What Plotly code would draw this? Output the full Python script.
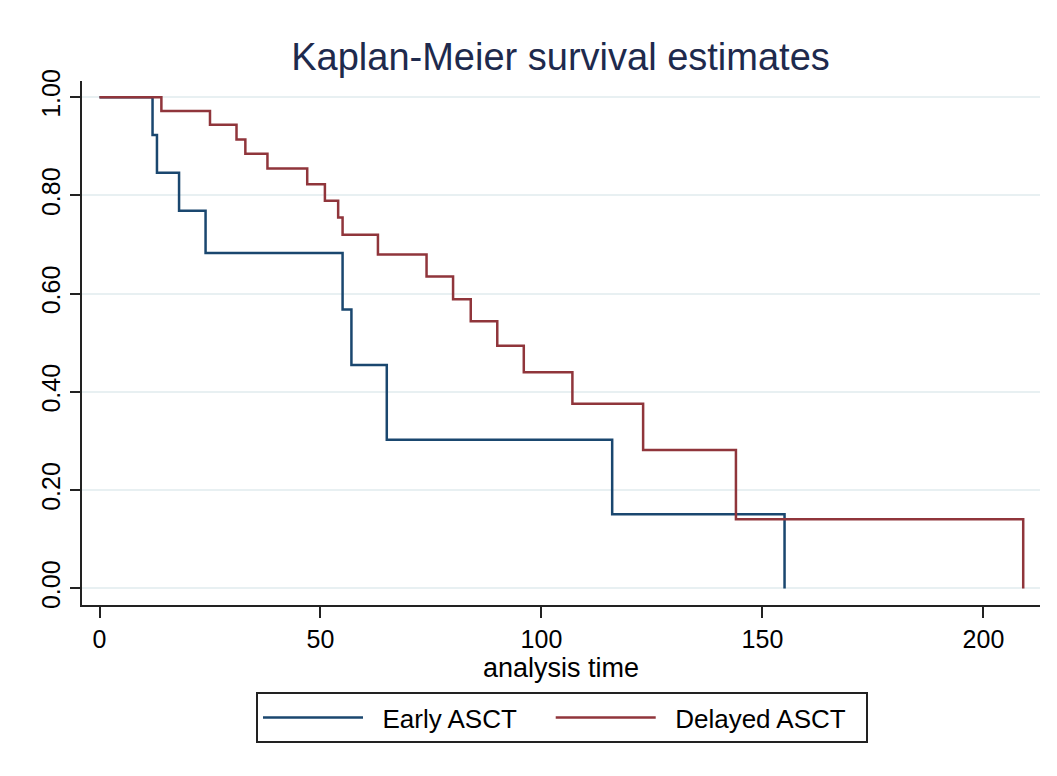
import plotly.graph_objects as go

# Kaplan-Meier step data
early_time = [0, 12, 13, 18, 24, 55, 57, 65, 116, 155]
early_surv = [1.0, 0.923, 0.846, 0.769, 0.683, 0.568, 0.455, 0.303, 0.151, 0.0]

delayed_time = [0, 14, 25, 31, 33, 38, 47, 51, 54, 55, 63, 74, 80, 84, 90, 96, 107, 123, 144, 209]
delayed_surv = [1.0, 0.972, 0.944, 0.914, 0.885, 0.855, 0.823, 0.789, 0.755, 0.720,
                0.680, 0.635, 0.589, 0.544, 0.494, 0.440, 0.376, 0.282, 0.141, 0.0]

x_ticks = [0, 50, 100, 150, 200]
y_ticks = [0.0, 0.2, 0.4, 0.6, 0.8, 1.0]
y_ticklabels = ["0.00", "0.20", "0.40", "0.60", "0.80", "1.00"]

FONT = "Liberation Sans, Arial, sans-serif"
SP = "&nbsp;"

fig = go.Figure()
fig.add_trace(go.Scatter(x=early_time, y=early_surv, mode="lines",
                         name=SP * 2 + "Early ASCT" + SP * 4,
                         line=dict(color="#1a476f", width=2.5, shape="hv")))
fig.add_trace(go.Scatter(x=delayed_time, y=delayed_surv, mode="lines",
                         name=SP * 2 + "Delayed ASCT" + SP * 2,
                         line=dict(color="#90353b", width=2.5, shape="hv")))

fig.update_layout(
    width=1057, height=776,
    margin=dict(l=82, r=17, t=81, b=170.5),
    paper_bgcolor="white", plot_bgcolor="white",
    font=dict(family=FONT, color="black"),
    title=dict(text="Kaplan-Meier survival estimates", x=560.5 / 1057, xanchor="center",
               y=1 - 57 / 776, yanchor="middle", xref="container", yref="container",
               font=dict(size=38, color="#1e2a4d", family=FONT)),
    showlegend=True,
    legend=dict(orientation="h", xref="container", yref="container",
                x=562 / 1057, xanchor="center", y=1 - 692 / 776, yanchor="top",
                bordercolor="#222222", borderwidth=2, bgcolor="white",
                font=dict(size=26, family=FONT, color="black"),
                itemwidth=100, traceorder="normal"),
)

fig.update_xaxes(
    range=[-3.96, 212.8], tickvals=x_ticks, ticktext=[str(v) for v in x_ticks],
    showgrid=False, zeroline=False, showline=True, linecolor="#222222", linewidth=1.5,
    ticks="outside", ticklen=11, tickwidth=1.5, tickcolor="#222222",
    tickfont=dict(size=25, family=FONT, color="black"),
    title=dict(text="analysis time", font=dict(size=27, family=FONT, color="black"), standoff=0),
)
fig.update_yaxes(
    range=[-0.0336, 1.033], tickvals=y_ticks, ticktext=y_ticklabels, tickangle=-90,
    showgrid=True, gridcolor="#e8f0f2", gridwidth=2, zeroline=False,
    showline=True, linecolor="#222222", linewidth=1.5,
    ticks="outside", ticklen=10, tickwidth=1.5, tickcolor="#222222",
    tickfont=dict(size=25, family=FONT, color="black"),
)

fig.write_html("out.html")
